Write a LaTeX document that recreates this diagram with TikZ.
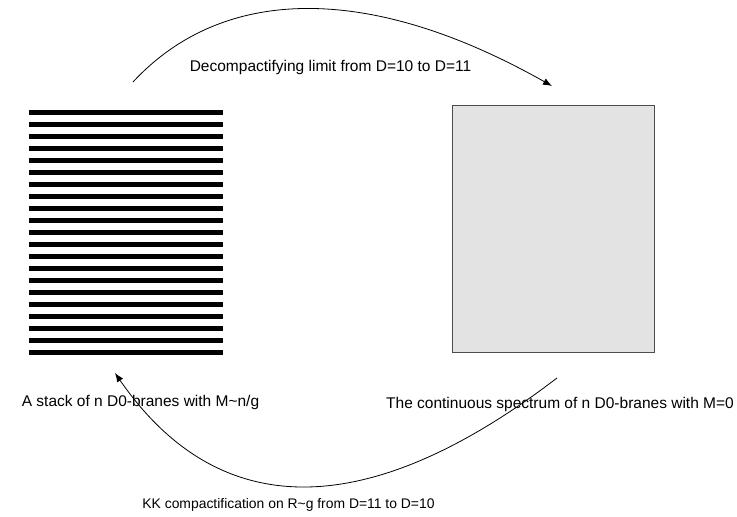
\documentclass[tikz,border=0pt]{standalone}
\usepackage{fontspec}
\setmainfont{Liberation Sans}
\usetikzlibrary{arrows.meta}
\begin{document}
\begin{tikzpicture}
[x=1pt,y=-1pt,
label text/.style={font=\fontsize{15.5}{18}\selectfont,inner sep=0pt},
small text/.style={font=\fontsize{13.9}{16}\selectfont,inner sep=0pt},
brane/.style={line width=5pt},
flow/.style={-{Latex[length=9pt,width=7pt]},line width=0.8pt}]
\useasboundingbox (0,0) rectangle (737,517);
% stack of branes
\foreach \k in {0,...,20}
  \draw[brane] (29,112+12*\k) -- (223,112+12*\k);
\node[draw=black!70,line width=1pt,fill=black!11,minimum width=202pt,minimum height=247pt,inner sep=0pt] (spectrum) at (553,228.5) {};
\node[label text] (stacktext) at (140.5,402) {A stack of n D0-branes with M\textasciitilde n/g};
\node[label text] (spectext) at (560,404) {The continuous spectrum of n D0-branes with M=0};
\node[label text] (uptext) at (330.5,67) {Decompactifying limit from D=10 to D=11};
\node[small text] (downtext) at (288.5,505) {KK compactification on R\textasciitilde g from D=11 to D=10};
\coordinate (upstart) at (133,82);
\coordinate (upend) at (552,86);
\coordinate (downstart) at (557,378);
\coordinate (downend) at (115,373);
\draw[flow] (upstart) .. controls (222,-14) and (368,-18) .. (upend);
\draw[flow] (downstart) .. controls (366,524) and (218,522) .. (downend);
\end{tikzpicture}
\end{document}
